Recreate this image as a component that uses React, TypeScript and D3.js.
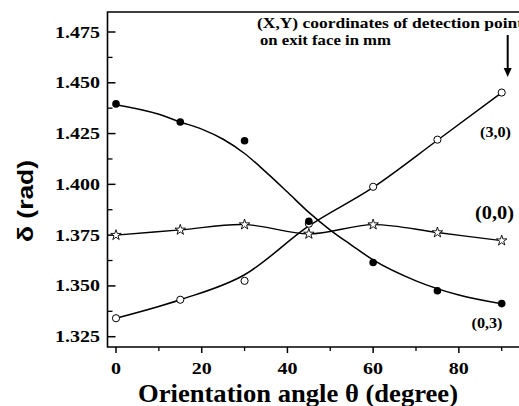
import React from "react";
import * as d3 from "d3";

const angles = [0, 15, 30, 45, 60, 75, 90];
const series03 = [1.4396, 1.4307, 1.4215, 1.3818, 1.3615, 1.3476, 1.3413];
const series30 = [1.3341, 1.3432, 1.3525, 1.3806, 1.3988, 1.422, 1.4452];
const series00 = [1.375, 1.3776, 1.3802, 1.3756, 1.3802, 1.3763, 1.3723];

const fitAngles03 = [0, 10, 15, 20, 25, 30, 35, 40, 45, 50, 55, 60, 70, 80, 90];
const fit03 = [1.4392, 1.4345, 1.4307, 1.4272, 1.4222, 1.4152, 1.406, 1.3962, 1.3862, 1.3775, 1.3700, 1.3628, 1.3525, 1.3455, 1.3412];
const fitAngles30 = [0, 15, 30, 45, 60, 75, 90];
const fit30 = [1.3341, 1.3432, 1.3555, 1.3795, 1.3985, 1.4217, 1.4452];

const yTicks = [1.325, 1.35, 1.375, 1.4, 1.425, 1.45, 1.475];
const yMinor = [1.3375, 1.3625, 1.3875, 1.4125, 1.4375, 1.4625];
const xTicks = [0, 20, 40, 60, 80];
const xMinor = [10, 30, 50, 70, 90];

const serif: React.CSSProperties = { fontFamily: "Liberation Serif, Times New Roman, serif", fontWeight: 700 };
const sans: React.CSSProperties = { fontFamily: "Liberation Sans, Arial, sans-serif", fontWeight: 700 };

function labelWidth(s: string) {
  let w = 0;
  for (const c of s) w += c === "." ? 5 : 10;
  return w;
}

export default function App() {
  const x = d3.scaleLinear().domain([0, 90]).range([116, 501.7]);
  const y = d3.scaleLinear().domain([1.325, 1.475]).range([336.7, 32]);
  const left = 107.5, top = 12, bottom = 347, right = 540;

  const fitLine = d3.line<[number, number]>().x(d => x(d[0])).y(d => y(d[1])).curve(d3.curveMonotoneX);
  const starLine = d3.line<[number, number]>().x(d => x(d[0])).y(d => y(d[1])).curve(d3.curveCatmullRom);
  const star = d3.symbol().type(d3.symbolStar).size(34)();

  return (
    <svg width={519} height={406} style={{ position: "absolute", left: 0, top: 0, background: "#fff" }}>
      <rect x={0} y={0} width={519} height={406} fill="#fff" />
      <path d={`M${right},${top} H${left} V${bottom} H${right}`} fill="none" stroke="#000" strokeWidth={1.6} />
      {yTicks.map(t => {
        const s = t.toFixed(3);
        const w = labelWidth(s);
        return (
          <g key={"y" + t}>
            <line x1={left} x2={left + 8} y1={y(t)} y2={y(t)} stroke="#000" strokeWidth={1.5} />
            <text x={100 - w} y={y(t) + 5.5} textLength={w} lengthAdjust="spacingAndGlyphs" style={{ ...serif, fontSize: 17 }}>
              {s}
            </text>
          </g>
        );
      })}
      {yMinor.map(t => (
        <line key={"ym" + t} x1={left} x2={left + 5} y1={y(t)} y2={y(t)} stroke="#000" strokeWidth={1.3} />
      ))}
      {xTicks.map(t => {
        const s = String(t);
        const w = labelWidth(s);
        return (
          <g key={"x" + t}>
            <line x1={x(t)} x2={x(t)} y1={bottom} y2={bottom + 6} stroke="#000" strokeWidth={1.5} />
            <text x={x(t) - w / 2} y={374} textLength={w} lengthAdjust="spacingAndGlyphs" style={{ ...serif, fontSize: 17 }}>
              {s}
            </text>
          </g>
        );
      })}
      {xMinor.map(t => (
        <line key={"xm" + t} x1={x(t)} x2={x(t)} y1={bottom} y2={bottom + 4} stroke="#000" strokeWidth={1.3} />
      ))}
      <path d={fitLine(fitAngles03.map((a, i) => [a, fit03[i]]) as [number, number][]) || ""} fill="none" stroke="#000" strokeWidth={1.5} />
      <path d={fitLine(fitAngles30.map((a, i) => [a, fit30[i]]) as [number, number][]) || ""} fill="none" stroke="#000" strokeWidth={1.5} />
      <path d={starLine(angles.map((a, i) => [a, series00[i]]) as [number, number][]) || ""} fill="none" stroke="#000" strokeWidth={1.3} />
      {angles.map((a, i) => (
        <circle key={"o" + a} cx={x(a)} cy={y(series30[i])} r={3.6} fill="#fff" stroke="#000" strokeWidth={1} />
      ))}
      {angles.map((a, i) => (
        <circle key={"f" + a} cx={x(a)} cy={y(series03[i])} r={3.8} fill="#000" />
      ))}
      {angles.map((a, i) => (
        <path key={"s" + a} d={star || ""} transform={`translate(${x(a)},${y(series00[i])})`} fill="#fff" stroke="#000" strokeWidth={0.9} />
      ))}
      <text x={257} y={28} textLength={266} lengthAdjust="spacingAndGlyphs" style={{ ...serif, fontSize: 15 }}>(X,Y) coordinates of detection point</text>
      <text x={260} y={45} textLength={131} lengthAdjust="spacingAndGlyphs" style={{ ...serif, fontSize: 15 }}>on exit face in mm</text>
      <line x1={507.7} x2={507.7} y1={35} y2={70} stroke="#000" strokeWidth={2} />
      <path d="M503.7,68 L511.7,68 L507.7,77 Z" fill="#000" />
      <text x={480} y={137} textLength={31} lengthAdjust="spacingAndGlyphs" style={{ ...serif, fontSize: 14 }}>(3,0)</text>
      <text x={475} y={219} textLength={39} lengthAdjust="spacingAndGlyphs" style={{ ...serif, fontSize: 18 }}>(0,0)</text>
      <text x={471.5} y={328} textLength={31} lengthAdjust="spacingAndGlyphs" style={{ ...serif, fontSize: 14 }}>(0,3)</text>
      <text transform="translate(33,242) rotate(-90)" textLength={82} lengthAdjust="spacingAndGlyphs" style={{ ...sans, fontSize: 22 }}>
        δ (rad)
      </text>
      <text x={138} y={401.5} textLength={320} lengthAdjust="spacingAndGlyphs" style={{ ...serif, fontSize: 25 }}>
        Orientation angle θ (degree)
      </text>
    </svg>
  );
}
